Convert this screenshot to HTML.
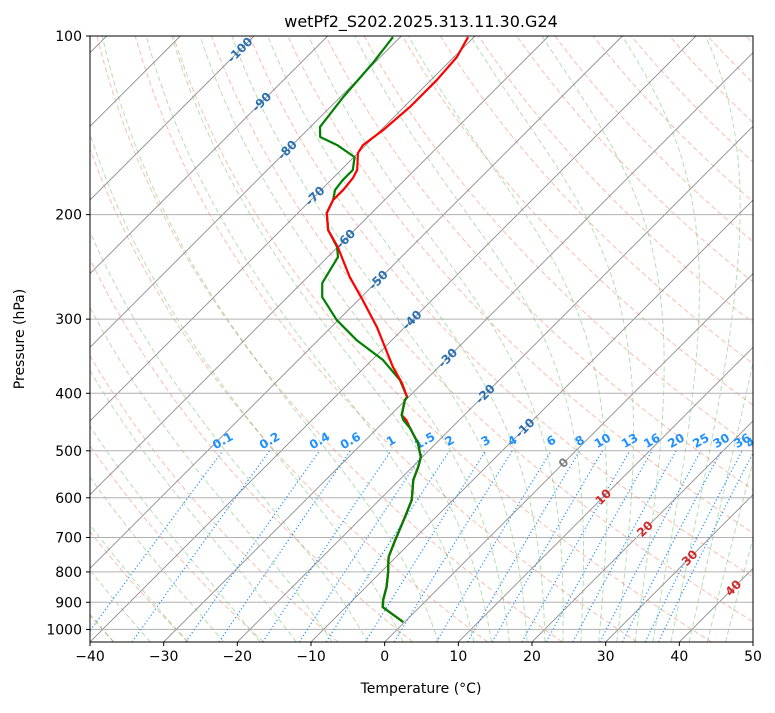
<!DOCTYPE html>
<html><head><meta charset="utf-8">
<style>
body{margin:0;background:#fff;}
svg text{font-family:"DejaVu Sans","Liberation Sans",sans-serif;}
</style></head>
<body>
<svg id="c" width="775" height="708" xmlns="http://www.w3.org/2000/svg">
<defs><clipPath id="pa"><rect x="90" y="36" width="663" height="606"/></clipPath></defs>
<rect width="775" height="708" fill="#fff"/>
<g id="bg" clip-path="url(#pa)"></g>
<g id="data" clip-path="url(#pa)"></g>
<g id="ax"></g>
</svg>
<script>
// ---- data ----
const tempP = [100.4,108.5,118.6,131.7,144,152.7,157.5,168.2,173.5,181.7,189,198.7,212.3,226.7,254.7,278.6,309.4,334.3,361.3,384.5,405.9,410.6,435.2,443.7,457.7,485.2,512.3,532.5,560.1,605.3,646.8,707.2,755.1,803.5,848.5,892.4,917,971.6];
const tempT = [-70.8,-69.6,-69.2,-69.2,-69.7,-70.4,-70.0,-67.8,-67.3,-67.0,-67.0,-66.1,-63.6,-60.0,-54.3,-49.4,-43.8,-40.0,-36.2,-32.8,-30.2,-30.1,-28.5,-27.2,-25.6,-22.5,-20.2,-19.2,-18.1,-15.6,-14.2,-12.4,-11.0,-8.9,-7.2,-5.9,-5.0,-0.2];
const dewP = [100.4,111,126.7,142.3,148,152.7,160,168.2,174.9,181.7,189,198.7,212.3,226.7,235.7,247.9,260.8,275.4,301.1,325.4,351.6,379.9,405.9,410.6,435.2,443.7,457.7,485.2,512.3,532.5,560.1,605.3,646.8,707.2,755.1,803.5,848.5,892.4,917,971.6];
const dewT = [-81.0,-80.2,-79.6,-78.7,-77.3,-73.9,-69.9,-68.4,-68.4,-68.1,-67.0,-66.1,-63.6,-60.1,-58.6,-57.9,-57.2,-55.3,-50.2,-44.8,-38.5,-33.5,-30.2,-30.1,-28.5,-27.6,-25.6,-22.5,-20.2,-19.2,-18.1,-15.6,-14.2,-12.4,-11.0,-8.9,-7.2,-5.9,-5.0,-0.2];
const xTicks = [-40,-30,-20,-10,0,10,20,30,40,50];
const yTicks = [100,200,300,400,500,600,700,800,900,1000];
const mixRatios = [0.1,0.2,0.4,0.6,1,1.5,2,3,4,6,8,10,13,16,20,25,30,36,40];
const isoLabels = [-100,-90,-80,-70,-60,-50,-40,-30,-20,-10,0,10,20,30,40];
const isoLabelY = [50,102,150,196,239,280,320,358,394,428,463,497,529,558,588];

// ---- scales ----
const X0=90,X1=753,Y0=36,Y1=642,TMIN=-40,TMAX=50,PTOP=100,PBOT=1050;
const K=(Y1-Y0)/Math.log10(PBOT/PTOP);
function py(p){return Y0+Math.log10(p/PTOP)*K;}
function tx(t,p){const y=py(p);return X0+(t-TMIN)*(X1-X0)/(TMAX-TMIN)+(Y1-y);}
function txy(t,y){return X0+(t-TMIN)*(X1-X0)/(TMAX-TMIN)+(Y1-y);}
const NS="http://www.w3.org/2000/svg";
function mk(tag,attrs,parent){const e=document.createElementNS(NS,tag);for(const k in attrs)e.setAttribute(k,attrs[k]);parent.appendChild(e);return e;}
const bg=document.getElementById('bg'),dg=document.getElementById('data'),ax=document.getElementById('ax');
function pathFrom(ps,ts){return ps.map((p,i)=>(i?'L':'M')+tx(ts[i],p).toFixed(2)+' '+py(p).toFixed(2)).join('');}
const plist=[];for(let p=PBOT;p>=PTOP-0.01;p-=5)plist.push(p);

// dry adiabats
for(let th=-50;th<=250;th+=10){
  const ts=plist.map(p=>(th+273.15)*Math.pow(p/1000,0.2857)-273.15);
  const e=mk('path',{d:pathFrom(plist,ts),fill:'none',stroke:'#f08060','stroke-opacity':0.5,'stroke-width':1,'stroke-dasharray':'5,3'},bg);
  
  
}
// moist adiabats
function es(T){return 6.112*Math.exp(17.67*T/(T+243.5));}
function dTdp(T,p){const Tk=T+273.15;const rs=0.622*es(T)/(p-es(T));const Rd=287.04,Cp=1005.7,Lv=2.501e6;
  return (Rd*Tk+Lv*rs)/p/(Cp+Lv*Lv*rs*0.622/(Rd*Tk*Tk));}
const moistT0=[];for(let t=-50;t<=10;t+=5)moistT0.push(t);for(let t=12.5;t<=45;t+=2.5)moistT0.push(t);
moistT0.forEach(t0=>{
  const ps=[],ts=[];let T=t0;const down=[];
  for(let q=1000;q<PBOT;q+=5){down.push([q,T]);T+=dTdp(T,q)*5;}down.push([PBOT,T]);
  T=t0;const up=[];for(let q=1000;q>PTOP;q-=5){up.push([q,T]);T-=dTdp(T,q)*5;}up.push([PTOP,T]);
  down.reverse().concat(up.slice(1)).forEach(a=>{ps.push(a[0]);ts.push(a[1]);});
  const e=mk('path',{d:pathFrom(ps,ts),fill:'none',stroke:'#2ca02c','stroke-opacity':0.35,'stroke-width':1,'stroke-dasharray':'5,3'},bg);
  
  
});
// isotherms
for(let t=-150;t<=50;t+=10){
  const e=mk('line',{x1:tx(t,PBOT),y1:Y1,x2:tx(t,PTOP),y2:Y0,stroke:'#8c8c8c','stroke-width':0.9},bg);
  
  
}
// pressure grid
yTicks.forEach(p=>{
  const e=mk('line',{x1:X0,x2:X1,y1:py(p),y2:py(p),stroke:'#b0b0b0','stroke-width':1},bg);
  
  
});
// mixing ratio lines
const mp=[];for(let p=PBOT;p>=500;p-=10)mp.push(p);
mixRatios.forEach(w=>{
  const ts=mp.map(p=>{const e=p*w/1000/(0.622+w/1000);const l=Math.log(e/6.112);return 243.5*l/(17.67-l);});
  const e=mk('path',{d:pathFrom(mp,ts),fill:'none',stroke:'#1e90ff','stroke-width':1.2,'stroke-dasharray':'1.2,2.4'},bg);
  
  
  const lx=tx(ts[ts.length-1],500),ly=py(500)-10;
  const t=mk('text',{x:lx,y:ly,fill:'#1e90ff','font-size':12,'font-weight':'bold','text-anchor':'middle','dominant-baseline':'central',transform:`rotate(-30 ${lx} ${ly})`},bg);
  t.textContent=String(w);
  
  
});
// isotherm labels
isoLabels.forEach((t,i)=>{
  const ly=isoLabelY[i];const lx=txy(t,ly);
  const col=t<0?'#2a6fb0':(t===0?'#808080':'#d62728');
  const e=mk('text',{x:lx,y:ly,fill:col,'font-size':12,'font-weight':'bold','text-anchor':'middle','dominant-baseline':'central',transform:`rotate(-45 ${lx} ${ly})`},bg);
  e.textContent=String(t);
  
  
});
// profiles
const dl=mk('path',{d:pathFrom(dewP,dewT),fill:'none',stroke:'#008000','stroke-width':2.2,'stroke-linejoin':'round'},dg);


const tl=mk('path',{d:pathFrom(tempP,tempT),fill:'none',stroke:'#ff0000','stroke-width':2.2,'stroke-linejoin':'round'},dg);


const dl2=mk('path',{d:pathFrom(dewP.slice(22),dewT.slice(22)),fill:'none',stroke:'#008000','stroke-width':2.2,'stroke-linejoin':'round'},dg);


// axes frame
const fr=mk('rect',{x:X0,y:Y0,width:X1-X0,height:Y1-Y0,fill:'none',stroke:'#000','stroke-width':1},ax);


xTicks.forEach(t=>{
  const x=X0+(t-TMIN)*(X1-X0)/(TMAX-TMIN);
  const l=mk('line',{x1:x,x2:x,y1:Y1,y2:Y1+4,stroke:'#000'},ax);
  
  
  const e=mk('text',{x:x,y:Y1+19,'font-size':14,'text-anchor':'middle'},ax);
  e.textContent=(t<0?'\u2212'+(-t):String(t));
  
  
});
yTicks.forEach(p=>{
  const y=py(p);
  const l=mk('line',{x1:X0-4,x2:X0,y1:y,y2:y,stroke:'#000'},ax);
  
  
  const e=mk('text',{x:X0-8,y:y+5,'font-size':14,'text-anchor':'end'},ax);
  e.textContent=String(p);
  
  
});
const xt=mk('text',{x:421,y:693,'font-size':14,'text-anchor':'middle'},ax);
xt.textContent='Temperature (°C)';


const yt=mk('text',{x:24,y:339,'font-size':14,'text-anchor':'middle',transform:'rotate(-90 24 339)'},ax);
yt.textContent='Pressure (hPa)';


const ti=mk('text',{x:421,y:27,'font-size':16,'text-anchor':'middle'},ax);
ti.textContent='wetPf2_S202.2025.313.11.30.G24';


</script>
</body></html>
